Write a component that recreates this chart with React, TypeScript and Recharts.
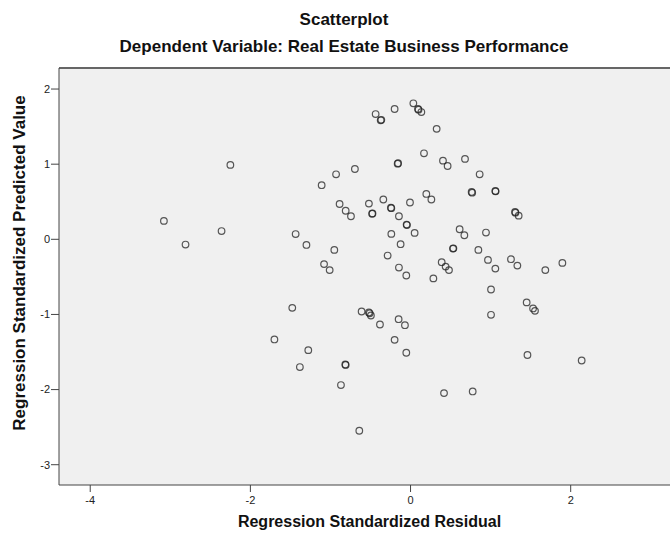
import { ScatterChart, Scatter, XAxis, YAxis, CartesianGrid, ReferenceLine } from 'recharts';

// standardized residual (x) and standardized predicted value (y)
const residual = [
  -3.08, -2.81, -2.36, -2.25, -1.435, -1.3, -1.11, -1.08, -1.01,
  -0.436, -0.373, -0.365, -0.199, 0.035, 0.093, 0.1, 0.135, 0.326, 0.168,
  -0.161, -0.155, 0.405, 0.463, 0.68, 0.863, 0.763, 0.77, 1.059, 1.062,
  1.305, 1.31, 1.35, -0.93, -0.695, -0.886, -0.81, -0.744, -0.52, -0.48,
  -0.475, -0.34, -0.245, -0.24, -0.145, -0.007, -0.049, -0.045, 0.197, 0.26,
  -0.24, 0.051, -0.124, 0.613, 0.672, 0.942, 0.53, 0.535, 0.847, 0.967,
  1.059, 1.254, 1.334, -0.952, -0.286, -0.145, -0.053, 0.389, 0.438, 0.48,
  0.285, 1.683, 1.896, -1.477, -1.7, -1.277, -1.382, 1.005, 1.45, 1.005,
  1.46, -0.611, -0.52, -0.51, -0.495, -0.382, -0.149, -0.07, -0.199, -0.053,
  -0.815, -0.81, -0.869, 0.418, 0.776, -0.64, 1.53, 1.554, 2.137,
];
const predicted = [
  0.245, -0.07, 0.11, 0.99, 0.07, -0.075, 0.72, -0.33, -0.41,
  1.667, 1.584, 1.59, 1.734, 1.81, 1.734, 1.725, 1.694, 1.47, 1.145,
  1.007, 1.012, 1.047, 0.976, 1.07, 0.865, 0.63, 0.62, 0.643, 0.638,
  0.364, 0.355, 0.315, 0.865, 0.936, 0.47, 0.38, 0.307, 0.475, 0.34,
  0.345, 0.53, 0.42, 0.415, 0.307, 0.49, 0.196, 0.19, 0.604, 0.53,
  0.072, 0.085, -0.065, 0.134, 0.054, 0.09, -0.124, -0.12, -0.141, -0.274,
  -0.39, -0.265, -0.35, -0.141, -0.216, -0.376, -0.482, -0.305, -0.363, -0.41,
  -0.52, -0.41, -0.314, -0.912, -1.333, -1.475, -1.7, -0.668, -0.84, -1.005,
  -1.54, -0.961, -0.974, -0.985, -1.014, -1.134, -1.063, -1.143, -1.338, -1.51,
  -1.666, -1.672, -1.94, -2.047, -2.025, -2.548, -0.92, -0.952, -1.613,
];
const xTicks = [-4, -2, 0, 2];
const yTicks = [-3, -2, -1, 0, 1, 2];

const points = residual.map((x, i) => ({ x, y: predicted[i] }));

const font = '"Liberation Sans", Arial, sans-serif';
const tickStyle = { fontSize: 11, fill: '#222', fontFamily: font };

const Ring = (props: any) => (
  <circle cx={props.cx} cy={props.cy} r={3.3} fill="none" stroke="#222" strokeOpacity={0.75} strokeWidth={1.2} />
);

export default function App() {
  return (
    <div style={{ position: 'relative', width: 670, height: 538, background: '#fff', fontFamily: font }}>
      <style>{'body{margin:0}'}</style>
      <div style={{ position: 'absolute', left: 0, width: 688, top: 10, textAlign: 'center', fontSize: 17, fontWeight: 'bold', color: '#111' }}>
        Scatterplot
      </div>
      <div style={{ position: 'absolute', left: 0, width: 688, top: 37, textAlign: 'center', fontSize: 17, fontWeight: 'bold', color: '#111' }}>
        Dependent Variable: Real Estate Business Performance
      </div>
      <ScatterChart width={670} height={538} margin={{ top: 68, right: 0, bottom: 0, left: 0 }}>
        <CartesianGrid fill="#f0f0f0" horizontal={false} vertical={false} />
        <XAxis
          type="number"
          dataKey="x"
          domain={[-4.39, 3.24]}
          ticks={xTicks}
          allowDataOverflow
          height={53}
          tickSize={7}
          tickMargin={4}
          stroke="#444"
          tick={tickStyle}
        />
        <YAxis
          type="number"
          dataKey="y"
          domain={[-3.27, 2.28]}
          ticks={yTicks}
          allowDataOverflow
          width={59}
          tickSize={8}
          tickMargin={1}
          stroke="#444"
          tick={tickStyle}
        />
        <ReferenceLine y={2.28} stroke="#666" strokeWidth={2} />
        <Scatter data={points} shape={Ring} isAnimationActive={false} />
      </ScatterChart>
      <div style={{ position: 'absolute', left: 64, width: 611, top: 513, textAlign: 'center', fontSize: 16, fontWeight: 'bold', color: '#111' }}>
        Regression Standardized Residual
      </div>
      <div
        style={{
          position: 'absolute',
          left: 20,
          top: 263,
          transform: 'translate(-50%, -50%) rotate(-90deg)',
          whiteSpace: 'nowrap',
          fontSize: 17,
          fontWeight: 'bold',
          color: '#111',
        }}
      >
        Regression Standardized Predicted Value
      </div>
    </div>
  );
}
